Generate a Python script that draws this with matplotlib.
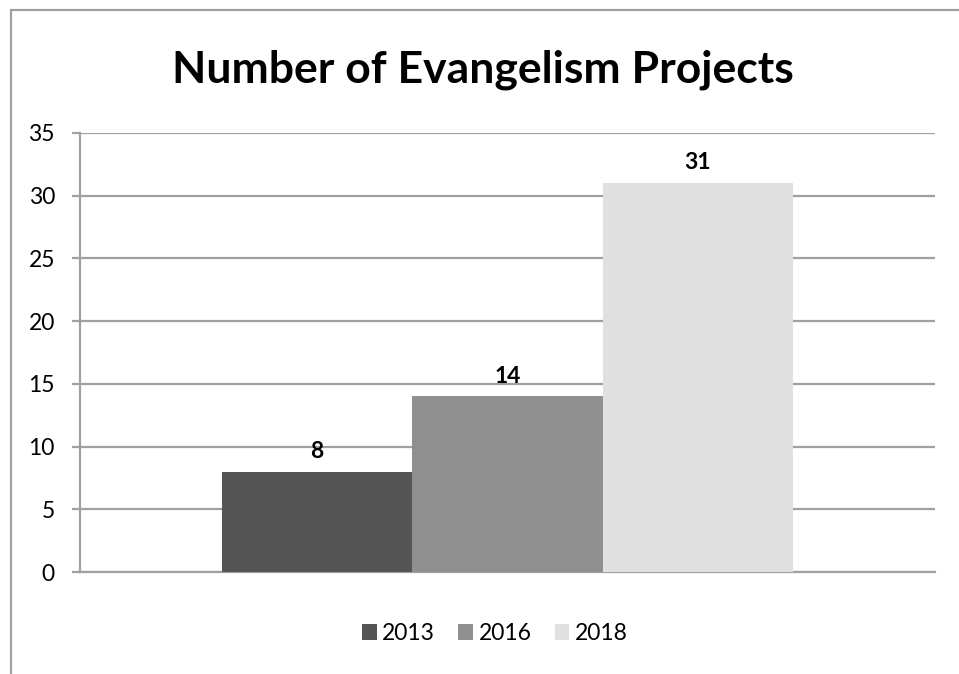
import matplotlib
matplotlib.use("Agg")
import matplotlib.pyplot as plt
from matplotlib.patches import Rectangle

years = ["2013", "2016", "2018"]
values = [8, 14, 31]
colors = ["#555555", "#8f8f8f", "#e0e0e0"]
yticks = [0, 5, 10, 15, 20, 25, 30, 35]
title = "Number of Evangelism Projects"

plt.rcParams['font.family'] = ['Lato', 'DejaVu Sans']

fig = plt.figure(figsize=(9.59, 6.74), dpi=100)
ax = fig.add_axes([0.0834, 0.1513, 0.8916, 0.6514])

grid_c = "#a0a0a0"
width = 0.2227
offsets = [-width, 0, width]
for y, v, c, o in zip(years, values, colors, offsets):
    ax.bar(o, v, width=width, color=c, label=y, zorder=3)
    ax.annotate(str(v), (o, v), xytext=(0, 7), textcoords="offset points",
                ha="center", va="bottom", fontsize=16.5, fontweight="bold", zorder=4)

ax.set_xlim(-0.5, 0.5)
ax.set_ylim(0, 35)
ax.set_yticks(yticks)
ax.set_yticklabels([str(t) for t in yticks], fontsize=16.5)
ax.set_xticks([])
ax.yaxis.grid(True, color=grid_c, linewidth=1.6, zorder=0)
ax.set_axisbelow(True)
for s in ["top", "right"]:
    ax.spines[s].set_visible(False)
ax.spines["left"].set_color(grid_c)
ax.spines["left"].set_linewidth(1.6)
ax.spines["bottom"].set_color(grid_c)
ax.spines["bottom"].set_linewidth(1.6)
ax.tick_params(axis="y", length=6, width=1.6, color=grid_c, pad=12)

fig.text(0.504, 0.897, title, ha="center", va="center", fontsize=32, fontweight="bold")

fig.legend(loc="center", bbox_to_anchor=(0.516, 0.06), ncol=3, frameon=False,
           fontsize=16.5, handlelength=0.65, handleheight=0.65, handletextpad=0.25,
           columnspacing=1.0)

fig.patches.append(Rectangle((11 / 959, -0.05), 1.2, 1.05 - 10 / 674, transform=fig.transFigure,
                             fill=False, edgecolor=grid_c, linewidth=1.6, zorder=0))

fig.savefig("out.png", dpi=100)
